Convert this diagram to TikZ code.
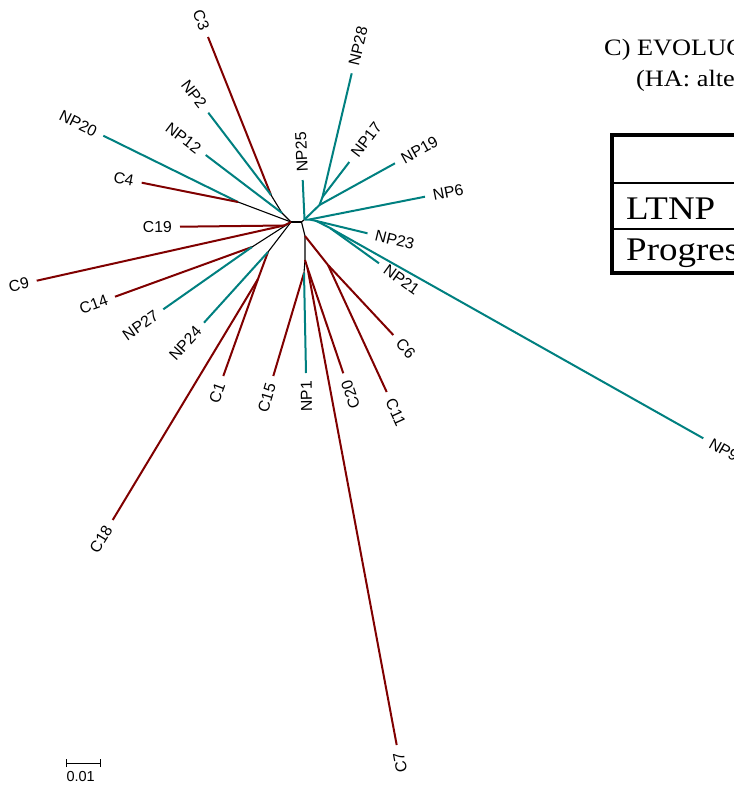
\documentclass[tikz,border=0pt]{standalone}
\usepackage{fontspec}
\setmainfont{Liberation Sans}
\newfontfamily\tablefont[FakeStretch=1.12]{Liberation Serif}
\definecolor{npteal}{RGB}{0,128,128}
\definecolor{cred}{RGB}{128,0,0}

\begin{document}
\begin{tikzpicture}[x=1pt,y=-1pt,
  cbr/.style={draw=cred, line width=2pt},
  npbr/.style={draw=npteal, line width=2pt},
  innerbr/.style={draw=black, line width=1.1pt},
  taxon/.style={font=\fontsize{15.8}{18}\selectfont, inner xsep=8pt, inner ysep=0pt},
  outr/.style={taxon, anchor=west},
  outl/.style={taxon, anchor=east},
  serif/.style={font=\tablefont\fontsize{#1}{#1}\selectfont, inner sep=0pt, anchor=base west},
  rule/.style={line width=#1, draw=black}
]
\useasboundingbox (0,0) rectangle (734,785);
\clip (0,0) rectangle (734,785);
\fill[white] (0,0) rectangle (734,785);

% ---------- internal nodes ----------
\coordinate (L0) at (291,222);
\coordinate (R0) at (301.5,222);
\coordinate (P1) at (271,195);
\coordinate (P5) at (282,213);
\coordinate (P4) at (238,202);
\coordinate (Q1) at (284,225.5);
\coordinate (Q2) at (252,247);
\coordinate (Q3) at (268,252);
\coordinate (Q4) at (258,279);
\coordinate (S1) at (305,236);
\coordinate (S2) at (328,265);
\coordinate (S3) at (305,260);
\coordinate (S4) at (304,273);
\coordinate (S5) at (307.5,268);
\coordinate (T0) at (304.5,219.5);
\coordinate (T1) at (319.5,205);
\coordinate (T2) at (322.5,197);
\coordinate (T3) at (309.5,219.5);
\coordinate (T4) at (316.5,221);
\coordinate (T5) at (330,228);

% ---------- leaf tips ----------
\coordinate (tC3)   at (208,37);
\coordinate (tNP2)  at (208.3,112.7);
\coordinate (tNP12) at (205.7,155);
\coordinate (tNP20) at (103.3,135.7);
\coordinate (tC4)   at (141.7,182.7);
\coordinate (tC19)  at (180,226.7);
\coordinate (tC9)   at (36.7,280.7);
\coordinate (tC14)  at (115,296.7);
\coordinate (tNP27) at (163.3,309.3);
\coordinate (tNP24) at (204,322.7);
\coordinate (tC1)   at (223.3,376);
\coordinate (tC18)  at (112.7,520);
\coordinate (tC15)  at (273.3,376);
\coordinate (tNP1)  at (306,373);
\coordinate (tC20)  at (343.3,373.3);
\coordinate (tC7)   at (396.7,745);
\coordinate (tC11)  at (386.7,392);
\coordinate (tC6)   at (393.3,335);
\coordinate (tNP25) at (302.7,180);
\coordinate (tNP28) at (351.7,73.3);
\coordinate (tNP17) at (349.3,162);
\coordinate (tNP19) at (395,163.3);
\coordinate (tNP6)  at (425,196.7);
\coordinate (tNP23) at (367.5,233.3);
\coordinate (tNP21) at (379,263.3);
\coordinate (tNP9)  at (703.3,438.3);

% ---------- internal branches (mixed clades) ----------
\draw[innerbr] (L0) -- (R0);
\draw[innerbr] (P1) -- (P5) -- (L0);
\draw[innerbr] (P4) -- (L0);
\draw[innerbr] (Q2) -- (L0);
\draw[innerbr] (Q3) -- (L0);
\draw[innerbr] (R0) -- (T0);
\draw[innerbr] (R0) -- (S1) -- (S3) -- (S4);

% ---------- internal branches of single-group clades ----------
\draw[cbr] (Q1) -- (L0);
\draw[cbr] (Q4) -- (Q3);
\draw[cbr] (S1) -- (S2);
\draw[cbr] (S3) -- (S5);
\draw[npbr] (T0) -- (T1) -- (T2);
\draw[npbr] (T0) -- (T3) -- (T4) -- (T5);

% ---------- terminal branches ----------
\draw[cbr]  (P1) -- (tC3);
\draw[npbr] (P1) -- (tNP2);
\draw[npbr] (P5) -- (tNP12);
\draw[npbr] (P4) -- (tNP20);
\draw[cbr]  (P4) -- (tC4);
\draw[cbr]  (Q1) -- (tC19);
\draw[cbr]  (Q1) -- (tC9);
\draw[cbr]  (Q2) -- (tC14);
\draw[npbr] (Q2) -- (tNP27);
\draw[npbr] (Q3) -- (tNP24);
\draw[cbr]  (Q4) -- (tC1);
\draw[cbr]  (Q4) -- (tC18);
\draw[cbr]  (S4) -- (tC15);
\draw[npbr] (S4) -- (tNP1);
\draw[cbr]  (S5) -- (tC20);
\draw[cbr]  (S5) -- (tC7);
\draw[cbr]  (S2) -- (tC11);
\draw[cbr]  (S2) -- (tC6);
\draw[npbr] (T0) -- (tNP25);
\draw[npbr] (T2) -- (tNP28);
\draw[npbr] (T2) -- (tNP17);
\draw[npbr] (T1) -- (tNP19);
\draw[npbr] (T3) -- (tNP6);
\draw[npbr] (T4) -- (tNP23);
\draw[npbr] (T5) -- (tNP21);
\draw[npbr] (T5) -- (tNP9);

% ---------- taxon labels ----------
\node[outl, rotate=-68.3] (lC3)   at (tC3)   {C3};
\node[outl, rotate=-52.7] (lNP2)  at (tNP2)  {NP2};
\node[outl, rotate=-37.2] (lNP12) at (tNP12) {NP12};
\node[outl, rotate=-26.2] (lNP20) at (tNP20) {NP20};
\node[outl, rotate=-11.3] (lC4)   at (tC4)   {C4};
\node[outl, rotate=0.7]   (lC19)  at (tC19)  {C19};
\node[outl, rotate=12.6]  (lC9)   at (tC9)   {C9};
\node[outl, rotate=19.9]  (lC14)  at (tC14)  {C14};
\node[outl, rotate=35.1]  (lNP27) at (tNP27) {NP27};
\node[outl, rotate=47.8]  (lNP24) at (tNP24) {NP24};
\node[outl, rotate=70.3]  (lC1)   at (tC1)   {C1};
\node[outl, rotate=58.9]  (lC18)  at (tC18)  {C18};
\node[outl, rotate=73.4]  (lC15)  at (tC15)  {C15};
\node[outl, rotate=91.1]  (lNP1)  at (tNP1)  {NP1};
\node[outl, rotate=108.8] (lC20)  at (tC20)  {C20};
\node[outl, rotate=100.6] (lC7)   at (tC7)   {C7};
\node[outr, rotate=-65.6] (lC11)  at (tC11)  {C11};
\node[outr, rotate=-47.4] (lC6)   at (tC6)   {C6};
\node[outr, rotate=92.6]  (lNP25) at (tNP25) {NP25};
\node[outr, rotate=76.7]  (lNP28) at (tNP28) {NP28};
\node[outr, rotate=52.6]  (lNP17) at (tNP17) {NP17};
\node[outr, rotate=28.9]  (lNP19) at (tNP19) {NP19};
\node[outr, rotate=11.2]  (lNP6)  at (tNP6)  {NP6};
\node[outr, rotate=-13.6] (lNP23) at (tNP23) {NP23};
\node[outr, rotate=-35.8] (lNP21) at (tNP21) {NP21};
\node[outr, rotate=-29.4] (lNP9)  at (tNP9)  {NP9};

% ---------- scale bar ----------
\coordinate (sbL) at (66,763);
\coordinate (sbR) at (100.7,763);
\draw[line width=1pt] (sbL) -- (sbR);
\draw[line width=1pt] ([yshift=-4pt]sbL) -- ([yshift=4pt]sbL);
\draw[line width=1pt] ([yshift=-4pt]sbR) -- ([yshift=4pt]sbR);
\node[font=\fontsize{14.5}{16}\selectfont, inner sep=0pt, anchor=base west] (sbText) at (66.3,781) {0.01};

% ---------- heading and table ----------
\node[serif=23.5] (head1) at (604,55) {C) EVOLUC};
\node[serif=23.5] (head2) at (636,86) {(HA: alte};
\draw[rule=4pt] (740,135) -- (612,135) -- (612,273) -- (740,273);
\draw[rule=2.5pt] (612,183) -- (740,183);
\draw[rule=2.5pt] (612,229) -- (740,229);
\node[serif=33] (rowA) at (626,219) {LTNP};
\node[serif=33] (rowB) at (626,260) {Progres};
\end{tikzpicture}
\end{document}
